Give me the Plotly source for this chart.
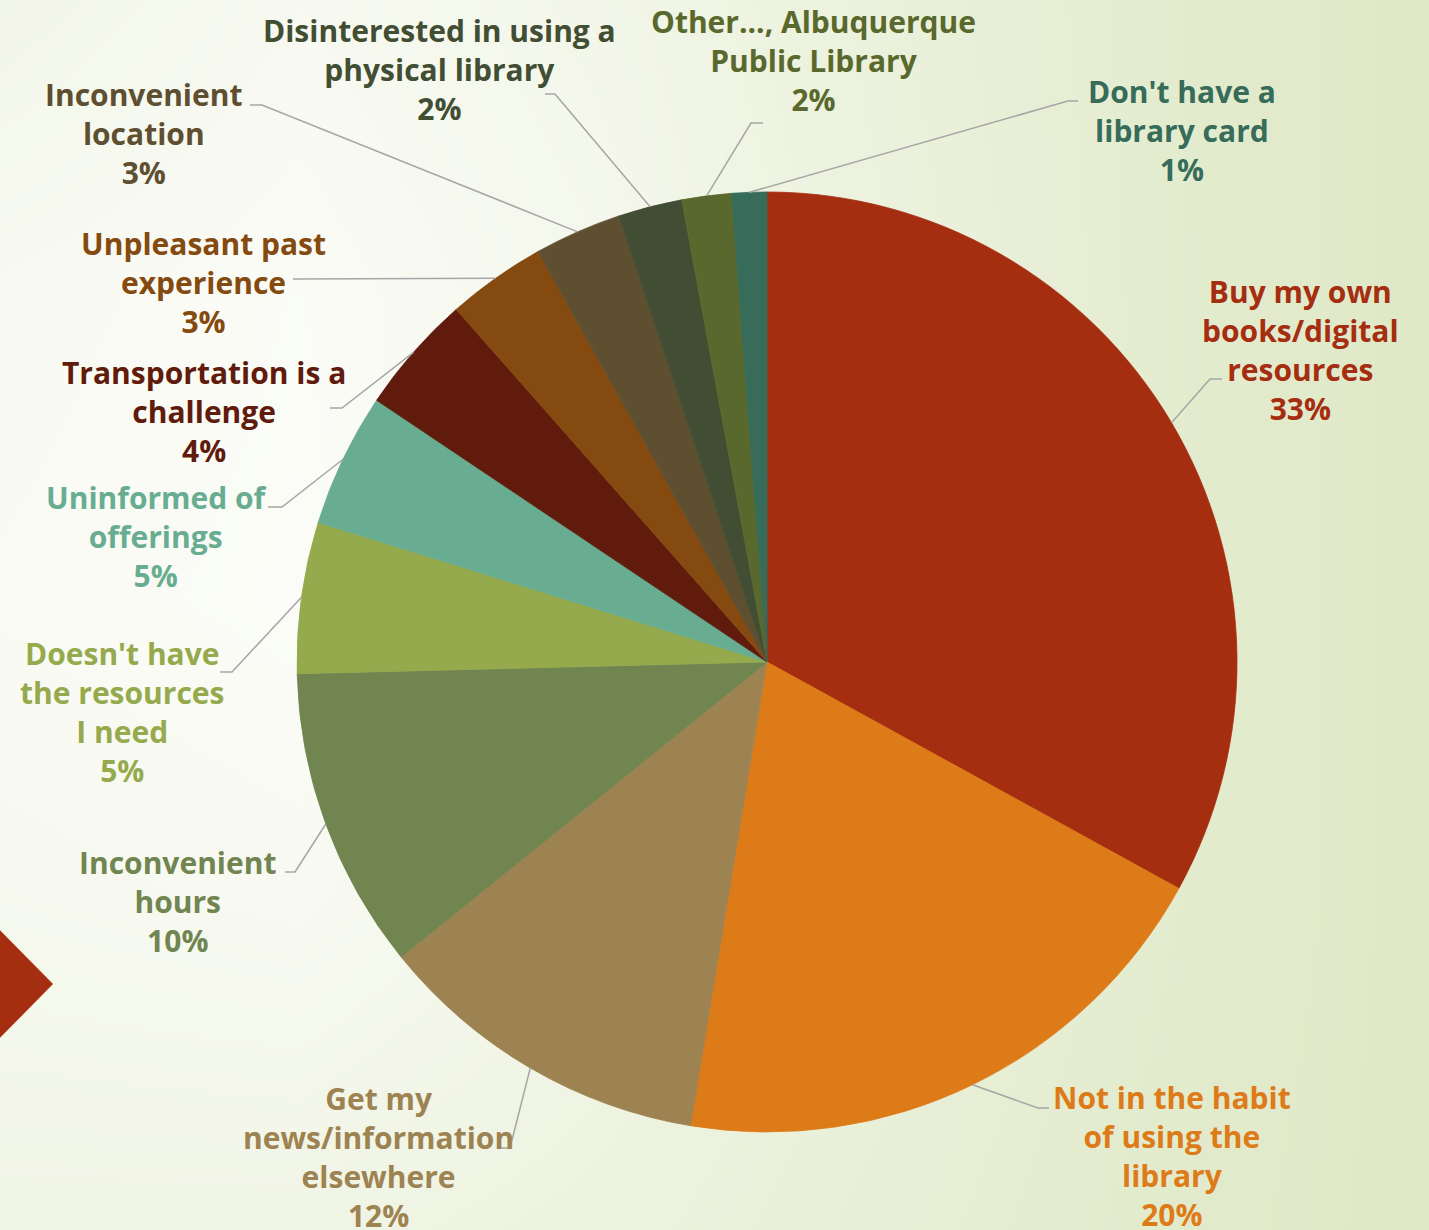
import math
import plotly.graph_objects as go

# ---------------- data ----------------
categories = [
    "Buy my own<br>books/digital<br>resources",
    "Not in the habit<br>of using the<br>library",
    "Get my<br>news/information<br>elsewhere",
    "Inconvenient<br>hours",
    "Doesn't have<br>the resources<br>I need",
    "Uninformed of<br>offerings",
    "Transportation is a<br>challenge",
    "Unpleasant past<br>experience",
    "Inconvenient<br>location",
    "Disinterested in using a<br>physical library",
    "Other..., Albuquerque<br>Public Library",
    "Don't have a<br>library card",
]
values = [33.0, 19.6, 11.6, 10.4, 5.2, 4.6, 4.1, 3.4, 3.0, 2.2, 1.7, 1.2]
colors = ["#A52D10", "#DD7B19", "#9E8352", "#718551", "#95AA4D", "#68AD91",
          "#601B0C", "#844A10", "#5E4F31", "#414E33", "#59692D", "#366C59"]

# background shade grid (0 = near white, 1 = light green)
bg_x = [0, 300, 600, 900, 1200, 1429]
bg_y = [0, 300, 600, 900, 1230]
bg_z = [
    [0.30, 0.12, 0.28, 0.55, 0.80, 0.95],
    [0.10, 0.02, 0.20, 0.50, 0.80, 0.95],
    [0.06, 0.00, 0.20, 0.50, 0.80, 0.95],
    [0.15, 0.10, 0.30, 0.55, 0.80, 0.95],
    [0.35, 0.35, 0.45, 0.65, 0.85, 0.95],
]

# ---------------- layout (pixels) ----------------
W, H = 1429, 1230
CX, CY, R = 767, 662, 470

# label centre positions and leader-line elbow / end points
label_pos = [(1300, 350), (1172, 1156), (378, 1157), (178, 901), (122, 712),
             (156, 537), (204, 411), (203, 282), (144, 134), (439, 70),
             (813, 61), (1182, 130)]
leader = [
    [(1210, 379), (1222, 379)],
    [(1038, 1108), (1049, 1108)],
    [(510, 1148), (498, 1148)],
    [(295, 872), (285, 872)],
    [(232, 672), (220, 672)],
    [(282, 507), (268, 507)],
    [(342, 408), (330, 408)],
    [(295, 279), (293, 279)],
    [(262, 105), (250, 105)],
    [(555, 94), (545, 94)],
    [(751, 123), (763, 123)],
    [(1068, 101), (1078, 101)],
]


def px(x):
    return x / W


def py(y):
    return 1 - y / H


fig = go.Figure()

fig.add_trace(go.Heatmap(
    x=bg_x, y=bg_y, z=bg_z, zsmooth="best", showscale=False, hoverinfo="skip",
    colorscale=[[0, "#FBFCF7"], [1, "#DDE7C3"]], zmin=0, zmax=1,
))

fig.add_trace(go.Pie(
    values=values, labels=[c.replace("<br>", " ") for c in categories],
    marker=dict(colors=colors, line=dict(width=0.8, color=colors)),
    sort=False, direction="clockwise", rotation=0,
    textinfo="none", hoverinfo="label+percent", showlegend=False,
    domain=dict(x=[px(CX - R), px(CX + R)], y=[py(CY + R), py(CY - R)]),
))

total = sum(values)
shapes = []
annotations = []
cum = 0.0
for i, v in enumerate(values):
    mid = (cum + v / 2) / total * 2 * math.pi
    cum += v
    sx = CX + R * math.sin(mid)
    sy = CY - R * math.cos(mid)
    pts = [(sx, sy)] + leader[i]
    path = "M " + " L ".join(f"{px(a):.5f},{py(b):.5f}" for a, b in pts)
    shapes.append(dict(type="path", path=path, xref="paper", yref="paper",
                       line=dict(color="#A6A6A6", width=1.5), layer="above"))
    pct = f"{round(v / total * 100):d}%"
    lx, ly = label_pos[i]
    annotations.append(dict(
        x=px(lx), y=py(ly), xref="paper", yref="paper", showarrow=False,
        text=f"{categories[i]}<br>{pct}", align="center",
        xanchor="center", yanchor="middle",
        font=dict(family="Open Sans", size=30, color=colors[i], weight="bold"),
    ))

# decorative diamond on the left edge
shapes.append(dict(type="path", xref="paper", yref="paper", layer="above",
                   path=f"M {px(-70)},{py(984)} L {px(-8)},{py(922)} L {px(53)},{py(984)} L {px(-8)},{py(1046)} Z",
                   fillcolor="#A52D10", line=dict(width=0)))

fig.update_layout(
    width=W, height=H, margin=dict(l=0, r=0, t=0, b=0),
    paper_bgcolor="#FBFCF7", plot_bgcolor="#FBFCF7",
    xaxis=dict(visible=False, range=[0, W], domain=[0, 1], fixedrange=True),
    yaxis=dict(visible=False, range=[H, 0], domain=[0, 1], fixedrange=True),
    shapes=shapes, annotations=annotations,
)

fig.write_html("out.html", config={"displayModeBar": False},
               post_script="document.body.style.margin='0';document.body.style.padding='0';")
